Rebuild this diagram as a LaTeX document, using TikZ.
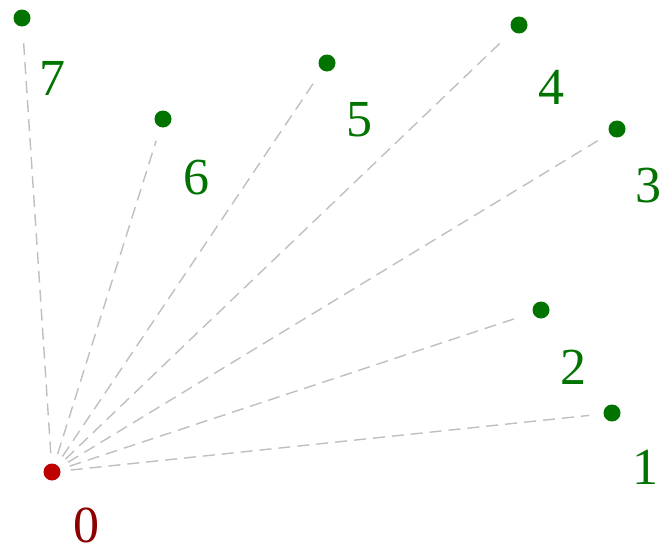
\documentclass[tikz,border=0pt]{standalone}
\usepackage{fontspec}
\setmainfont{Liberation Serif}
\begin{document}
\begin{tikzpicture}[x=1pt,y=-1pt,
  dot/.style={circle,fill=green!45!black,inner sep=0pt,minimum size=17pt},
  rdot/.style={circle,fill=red!75!black,inner sep=0pt,minimum size=17pt},
  lab/.style={text=green!45!black,font=\fontsize{52}{52}\selectfont,inner sep=0pt},
  rlab/.style={text=red!55!black,font=\fontsize{52}{52}\selectfont,inner sep=0pt},
  edge/.style={draw=black!25,line width=1.4pt,dash pattern=on 12pt off 7pt,shorten <=10pt,shorten >=14pt}]
\useasboundingbox (0,0) rectangle (662,554);
\node[rdot] (n0) at (52,472) {};
\node[dot] (n1) at (612,413) {};
\node[dot] (n2) at (541,310) {};
\node[dot] (n3) at (617,129) {};
\node[dot] (n4) at (519,25) {};
\node[dot] (n5) at (327,63) {};
\node[dot] (n6) at (163,119) {};
\node[dot] (n7) at (22,18) {};
\node[rlab] (l0) at (86,525) {0};
\node[lab] (l1) at (645,467) {1};
\node[lab] (l2) at (573,367) {2};
\node[lab] (l3) at (648,186) {3};
\node[lab] (l4) at (551,87) {4};
\node[lab] (l5) at (359,120) {5};
\node[lab] (l6) at (196,178) {6};
\node[lab] (l7) at (52,78) {7};
\foreach \i in {1,...,7} {\draw[edge] (n0) -- (n\i);}
\end{tikzpicture}
\end{document}
